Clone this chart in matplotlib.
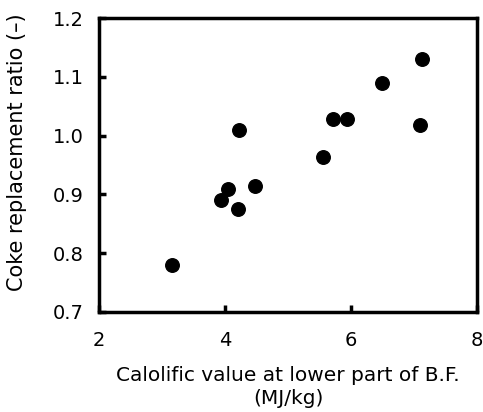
import matplotlib
matplotlib.use("Agg")
import matplotlib.pyplot as plt

# calorific value at lower part of B.F. (MJ/kg) vs coke replacement ratio
calorific = [3.16, 3.94, 4.05, 4.21, 4.22, 4.47, 5.56, 5.72, 5.94, 6.49, 7.09, 7.13]
replacement = [0.779, 0.891, 0.910, 0.875, 1.009, 0.914, 0.964, 1.029, 1.029, 1.089, 1.018, 1.130]

x_ticks = [2, 4, 6, 8]
y_ticks = [0.7, 0.8, 0.9, 1.0, 1.1, 1.2]

plt.rcParams['font.family'] = ['DejaVu Sans']

fig = plt.figure(figsize=(4.83, 4.12), dpi=100)
ax = fig.add_axes([0.205, 0.243, 0.783, 0.713])

ax.scatter(calorific, replacement, s=95, color='black', zorder=3, clip_on=False)

ax.set_xlim(2, 8)
ax.set_ylim(0.7, 1.2)
ax.set_xticks(x_ticks)
ax.set_yticks(y_ticks)
ax.set_xticklabels([str(v) for v in x_ticks])
ax.set_yticklabels(["%.1f" % v for v in y_ticks])

ax.tick_params(axis='both', direction='in', width=2.5, length=5, labelsize=14)
ax.tick_params(axis='x', pad=14)
ax.tick_params(axis='y', pad=11)
for s in ax.spines.values():
    s.set_linewidth(2.5)

ax.set_xlabel("Calolific value at lower part of B.F.\n(MJ/kg)", fontsize=14.5,
              labelpad=11, linespacing=1.3)
ax.set_ylabel("Coke replacement ratio (\u2013)", fontsize=15)
ax.yaxis.set_label_coords(-0.19, 0.545)

fig.savefig("out.png", dpi=100)
